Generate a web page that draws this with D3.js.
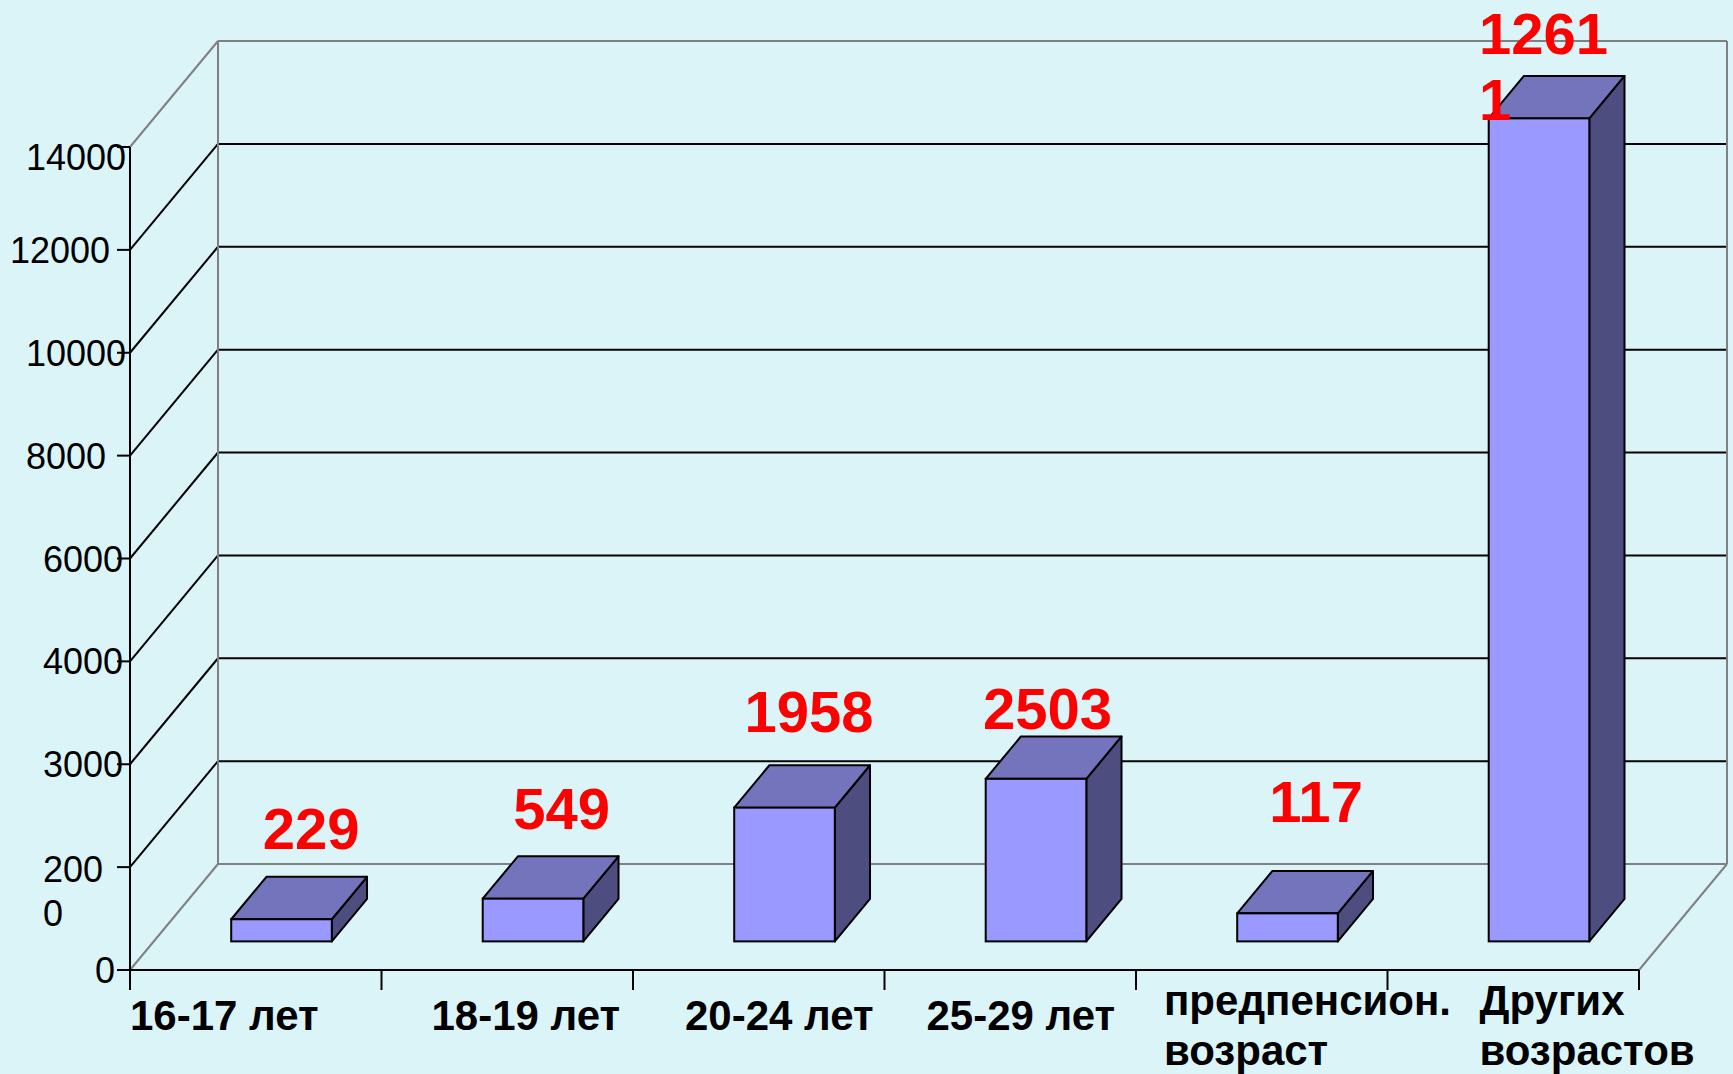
<!DOCTYPE html>
<html>
<head>
<meta charset="utf-8">
<script src="https://cdn.jsdelivr.net/npm/d3@7"></script>
<style>
  html, body { margin: 0; padding: 0; background: #dbf4f8; }
  svg { display: block; }
  text { font-family: "Liberation Sans", Arial, sans-serif; }
</style>
</head>
<body>
<div id="chart"></div>
<script>
// categories along the floor ("\n" = line break as in the picture)
const categories = ["16-17 лет", "18-19 лет", "20-24 лет", "25-29 лет", "предпенсион.\nвозраст", "Других\nвозрастов"];
const barValues = [430, 830, 2300, 2580, 545, 14000];
// red numbers written above the bars
const valueLabels = ["229", "549", "1958", "2503", "117", "12611"];
// axis ticks and their printed labels
const tickValues = [0, 2000, 3000, 4000, 6000, 8000, 10000, 12000, 14000];
const tickLabels = ["0", "200\n0", "3000", "4000", "6000", "8000", "10000", "12000", "14000"];

// layout
var width = 1733, height = 1074;
var front = { left: 130, right: 1639, bottom: 970, top: 147 };
var depth = { dx: 88, dy: -106 };       // floor depth vector
var barFront = 0.27, barDepth = 0.40;    // bar position in depth (fraction)
var gray = "#808080";

// small hand nudges so text sits where the original put it
var catLabelDx = [0, 50, 52, 42, 28, 92];
var tickLabelRight = [115, 43, 123, 123, 123, 106, 126, 110, 126];
var tickLabelDy = [0, 2, 0, 0, 0, 0, 0, 0, 10];
var valueNudge = [[6, 0], [5, 1], [1, -5], [-12, 21], [5, -21], [-19, 6]];

var svg = d3.select("#chart")
  .append("svg")
  .attr("width", width)
  .attr("height", height);

svg.append("rect")
  .attr("width", width).attr("height", height)
  .attr("fill", "#dbf4f8");

var x = d3.scaleBand()
  .domain(categories)
  .range([front.left, front.right])
  .padding(0);

var step = (front.bottom - front.top) / (tickValues.length - 1);
var y = d3.scaleLinear()
  .domain(tickValues)
  .range(tickValues.map((d, i) => front.bottom - i * step));

// push a front point back by fraction f of the depth
function P(px, py, f) { return [px + f * depth.dx, py + f * depth.dy]; }

function line(g, a, b, color) {
  g.append("line")
    .attr("x1", a[0]).attr("y1", a[1])
    .attr("x2", b[0]).attr("y2", b[1])
    .attr("stroke", color)
    .attr("stroke-width", 2);
}

var vmax = tickValues[tickValues.length - 1];

// walls and grid
var grid = svg.append("g").attr("class", "grid");
tickValues.forEach(function(v, i) {
  var edge = (i == 0 || i == tickValues.length - 1);
  var c = edge ? gray : "#000";
  line(grid, P(front.left, y(v), 1), P(front.right, y(v), 1), c);
  line(grid, [front.left, y(v)], P(front.left, y(v), 1), c);
});
line(grid, P(front.left, y(0), 1), P(front.left, y(vmax), 1), gray);
line(grid, P(front.right, y(0), 1), P(front.right, y(vmax), 1), gray);
line(grid, [front.right, y(0)], P(front.right, y(0), 1), gray);

// bars
var bw = x.bandwidth();
var barW = bw * 0.40;
var bdx = barDepth * depth.dx, bdy = barDepth * depth.dy;

var bars = svg.append("g").attr("class", "bars")
  .selectAll("g")
  .data(categories)
  .enter().append("g");

bars.each(function(c, i) {
  var g = d3.select(this);
  var shift = P(0, 0, barFront);
  var xl = x(c) + bw / 2 - barW / 2 + shift[0] + 2;
  var xr = xl + barW;
  var yb = y(0) + shift[1];
  var yt = y(barValues[i]) + shift[1];
  var pts = function(a) { return a.map(p => p.join(",")).join(" "); };

  g.append("polygon")
    .attr("points", pts([[xr, yt], [xr + bdx, yt + bdy], [xr + bdx, yb + bdy], [xr, yb]]))
    .attr("fill", "#4d4d80").attr("stroke", "#000").attr("stroke-width", 2)
    .attr("stroke-linejoin", "round");
  g.append("polygon")
    .attr("points", pts([[xl, yt], [xl + bdx, yt + bdy], [xr + bdx, yt + bdy], [xr, yt]]))
    .attr("fill", "#7474bc").attr("stroke", "#000").attr("stroke-width", 2)
    .attr("stroke-linejoin", "round");
  g.append("rect")
    .attr("x", xl).attr("y", yt)
    .attr("width", barW).attr("height", yb - yt)
    .attr("fill", "#9999ff").attr("stroke", "#000").attr("stroke-width", 2);
});

// front axes
var axes = svg.append("g").attr("class", "axes");
line(axes, [front.left, y(vmax)], [front.left, y(0) + 20], "#000");
line(axes, [front.left, y(0)], [front.right, y(0)], "#000");
tickValues.forEach(function(v) {
  line(axes, [front.left - 13, y(v)], [front.left, y(v)], "#000");
});
categories.forEach(function(c) {
  line(axes, [x(c) + bw, y(0)], [x(c) + bw, y(0) + 20], "#000");
});

// y tick labels
svg.append("g").attr("class", "y-labels")
  .selectAll("text")
  .data(tickValues)
  .enter().append("text")
  .attr("font-size", 36)
  .attr("fill", "#000")
  .each(function(v, i) {
    var t = d3.select(this);
    var lines = tickLabels[i].split("\n");
    var multi = lines.length > 1;
    t.attr("text-anchor", multi ? "start" : "end");
    lines.forEach(function(s, k) {
      t.append("tspan")
        .attr("x", tickLabelRight[i])
        .attr("y", y(v) + tickLabelDy[i] + 13 + k * 44)
        .text(s);
    });
  });

// category labels
svg.append("g").attr("class", "x-labels")
  .selectAll("text")
  .data(categories)
  .enter().append("text")
  .attr("font-size", 42)
  .attr("font-weight", "bold")
  .attr("fill", "#000")
  .each(function(c, i) {
    var t = d3.select(this);
    var lines = c.split("\n");
    var base = lines.length > 1 ? y(0) + 45 : y(0) + 60;
    lines.forEach(function(s, k) {
      t.append("tspan")
        .attr("x", x(c) + catLabelDx[i])
        .attr("y", base + k * 50)
        .text(s);
    });
  });

// red value labels, wrapped if wider than the box
var maxLabelW = 140;
var vl = svg.append("g").attr("class", "value-labels");
categories.forEach(function(c, i) {
  var shift = P(0, 0, barFront + barDepth);
  var cx = x(c) + bw / 2 + P(0, 0, barFront)[0] + bdx / 2 + 8 + valueNudge[i][0];
  var base = y(barValues[i]) + shift[1] - 28 + valueNudge[i][1];
  var t = vl.append("text")
    .attr("font-size", 58)
    .attr("font-weight", "bold")
    .attr("fill", "#ff0000");
  var ts = t.append("tspan").attr("x", cx).attr("y", base).text(valueLabels[i]);
  if (ts.node().getComputedTextLength() <= maxLabelW) {
    t.attr("text-anchor", "middle");
    return;
  }
  // break by characters
  var str = valueLabels[i], lines = [], cur = "";
  for (var ch of str) {
    ts.text(cur + ch);
    if (cur && ts.node().getComputedTextLength() > maxLabelW) { lines.push(cur); cur = ch; }
    else cur += ch;
  }
  lines.push(cur);
  ts.text(lines[0]);
  var left = cx - ts.node().getComputedTextLength() / 2;
  ts.attr("x", left);
  lines.slice(1).forEach(function(s, k) {
    t.append("tspan").attr("x", left).attr("y", base + (k + 1) * 66).text(s);
  });
});
</script>
</body>
</html>
